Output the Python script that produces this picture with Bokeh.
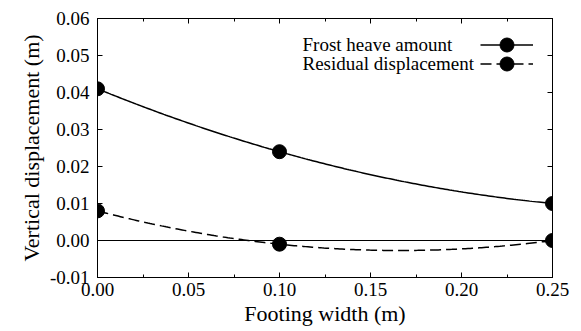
import numpy as np
from bokeh.plotting import figure
from bokeh.models import (Range1d, LinearAxis, FixedTicker, NumeralTickFormatter,
                          CustomJSTickFormatter, Span, Legend, LegendItem, Label, Title)
from bokeh.core.properties import value
from bokeh.embed import file_html
from bokeh.resources import INLINE

# ---- data ----
footing_width = [0.00, 0.10, 0.25]
frost_heave = [0.041, 0.024, 0.010]
residual = [0.008, -0.001, 0.000]

x_ticks = [0.00, 0.05, 0.10, 0.15, 0.20, 0.25]
x_minor_ticks = [0.025, 0.075, 0.125, 0.175, 0.225]
y_ticks = [-0.01, 0.00, 0.01, 0.02, 0.03, 0.04, 0.05, 0.06]

x_label = "Footing width (m)"
y_label = "Vertical displacement (m)"
series_labels = ["Frost heave amount", "Residual displacement"]

FONT = "Liberation Serif"

p = figure(width=581, height=331, output_backend="svg", toolbar_location=None,
           x_range=Range1d(0, 0.25), y_range=Range1d(-0.01, 0.06),
           min_border_left=97, min_border_right=29, min_border_top=18, min_border_bottom=54)
p.grid.visible = False
p.background_fill_color = "white"
p.border_fill_color = "white"
p.outline_line_color = "black"
p.outline_line_width = 1


def style_axis(ax, ticker, labels=True):
    ax.ticker = ticker
    ax.axis_line_color = "black"
    ax.axis_line_width = 1
    ax.major_tick_in = 5
    ax.major_tick_out = 0
    ax.minor_tick_in = 3
    ax.minor_tick_out = 0
    ax.major_tick_line_color = "black"
    ax.minor_tick_line_color = "black"
    ax.major_label_text_font = FONT
    ax.major_label_text_color = "black"
    if labels:
        ax.formatter = NumeralTickFormatter(format="0.00")
        ax.major_label_text_font_size = "19px"
    else:
        ax.formatter = CustomJSTickFormatter(code="return ''")
        ax.major_label_text_font_size = "0px"
        ax.major_label_standoff = 0


style_axis(p.xaxis[0], FixedTicker(ticks=x_ticks, minor_ticks=x_minor_ticks))
p.xaxis[0].major_label_standoff = 5
style_axis(p.yaxis[0], FixedTicker(ticks=y_ticks, minor_ticks=[]))
p.yaxis[0].major_label_standoff = 8

top_ax = LinearAxis()
style_axis(top_ax, FixedTicker(ticks=x_ticks, minor_ticks=x_minor_ticks), labels=False)
p.add_layout(top_ax, "above")
right_ax = LinearAxis()
style_axis(right_ax, FixedTicker(ticks=y_ticks, minor_ticks=[]), labels=False)
p.add_layout(right_ax, "right")

# axis titles as Title annotations in the side panels
p.add_layout(Title(text=x_label, align="center", text_font=FONT, text_font_size="22px",
                   text_font_style="normal", text_color="black", standoff=0, offset=0), "below")
p.add_layout(Title(text=y_label, align="center", text_font=FONT, text_font_size="22px",
                   text_font_style="normal", text_color="black", standoff=6, offset=0), "left")

# zero line
p.add_layout(Span(location=0, dimension="width", line_color="black", line_width=1))

# smooth curves through the measured points (quadratic through the 3 points)
xs = np.linspace(min(footing_width), max(footing_width), 200)
fh_fit = np.polyval(np.polyfit(footing_width, frost_heave, 2), xs)
rd_fit = np.polyval(np.polyfit(footing_width, residual, 2), xs)

l1 = p.line(xs, fh_fit, line_color="black", line_width=1.5)
l2 = p.line(xs, rd_fit, line_color="black", line_width=1.5, line_dash="11 5")
m1 = p.scatter(footing_width, frost_heave, size=14, marker="circle",
               fill_color="black", line_color="black")
m2 = p.scatter(footing_width, residual, size=14, marker="circle",
               fill_color="black", line_color="black")

# legend: glyph samples (right) + text labels (left)
for rs, loc in [([l1, m1], (383, 215)), ([l2, m2], (383, 196))]:
    lg = Legend(items=[LegendItem(label=value(""), renderers=rs)], location=loc,
                glyph_width=53, glyph_height=35, label_width=0, label_standoff=0,
                label_text_font_size="1px", label_height=1,
                padding=0, margin=0, spacing=0,
                border_line_color=None, background_fill_alpha=0)
    p.add_layout(lg)

for txt, yy in zip(series_labels, [233, 214]):
    p.add_layout(Label(x=205, y=yy, x_units="screen", y_units="screen", text=txt,
                       text_font=FONT, text_font_size="19px",
                       text_baseline="middle", text_align="left", text_color="black"))

open("out.html", "w").write(file_html(p, INLINE))
